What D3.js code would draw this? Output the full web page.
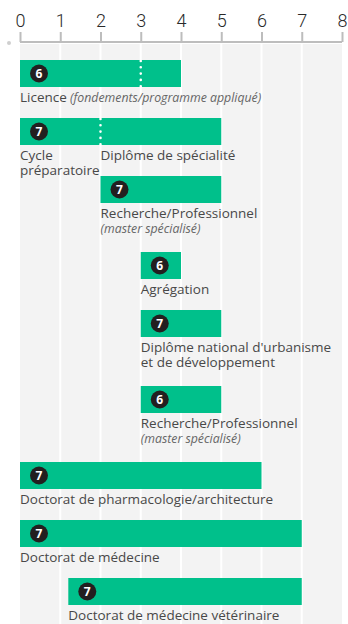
<!DOCTYPE html>
<html>
<head>
<meta charset="utf-8">
<script src="https://cdn.jsdelivr.net/npm/d3@7"></script>
<style>
  body { margin: 0; background: #fff; }
  svg { display: block; }
</style>
</head>
<body>
<svg id="chart"></svg>
<script>
// données : début / fin des cursus (en années), niveau, séparations
var debuts = [0, 0, 2, 3, 3, 3, 0, 0, 1.2];
var fins = [4, 5, 5, 4, 5, 5, 6, 7, 7];
var niveaux = [6, 7, 7, 6, 7, 6, 7, 7, 7];
var separations = [3, 2, null, null, null, null, null, null, null];
var titres = [
    ["Licence"],
    ["Cycle", "préparatoire"],
    ["Recherche/Professionnel"],
    ["Agrégation"],
    ["Diplôme national d'urbanisme", "et de développement"],
    ["Recherche/Professionnel"],
    ["Doctorat de pharmacologie/architecture"],
    ["Doctorat de médecine"],
    ["Doctorat de médecine vétérinaire"]
];
var precisions = [
    "(fondements/programme appliqué)", null, "(master spécialisé)", null, null,
    "(master spécialisé)", null, null, null
];
// libellé placé à la séparation (2e partie de la barre)
var titresSeparation = [null, "Diplôme de spécialité", null, null, null, null, null, null, null];
// lignes de texte qui repoussent la barre suivante
var lignesSupp = [0, 0, 1, 0, 1, 1, 0, 0, 0];
var ticks = [0, 1, 2, 3, 4, 5, 6, 7, 8];

var W = 348, H = 624;
var svg = d3.select("#chart").attr("width", W).attr("height", H);

var x = d3.scaleLinear().domain([0, 8]).range([20, 342]);

var barH = 27, pas = 58, pasLigne = 18, top0 = 60, fondTop = 44, interligne = 15;

// positions verticales cumulées
var tops = [];
var cur = top0;
for (var i = 0; i < debuts.length; i++) {
    tops.push(cur);
    cur += pas + pasLigne * lignesSupp[i];
}

var texte = "#484848";
var police = "'Open Sans', sans-serif";
var taille = "13.5px", tailleIt = "12.3px";

// fond gris + lignes blanches
svg.append("rect")
    .attr("x", x(0)).attr("y", fondTop)
    .attr("width", x(8) - x(0)).attr("height", H - fondTop)
    .attr("fill", "#f3f3f3");

svg.selectAll(".grille")
    .data(ticks.slice(1, 8))
    .enter().append("line")
    .attr("class", "grille")
    .attr("x1", function(d) { return x(d); })
    .attr("x2", function(d) { return x(d); })
    .attr("y1", fondTop).attr("y2", H)
    .attr("stroke", "#fff").attr("stroke-width", 2);

// axe du haut
var axe = svg.append("g")
    .attr("transform", "translate(0,42)")
    .call(d3.axisTop(x).tickValues(ticks).tickSize(10).tickPadding(5).tickFormat(d3.format("d")));
axe.select(".domain").attr("stroke", "#bdbdbd").attr("stroke-width", 2)
    .attr("d", "M" + x(0) + ",0H" + x(8));
axe.selectAll(".tick line").attr("stroke", "#bdbdbd").attr("stroke-width", 2);
axe.selectAll(".tick text")
    .attr("fill", "#2a2a2a")
    .style("font-family", "Roboto, sans-serif")
    .style("font-weight", "300")
    .style("font-size", "18px");

svg.append("circle").attr("cx", 9).attr("cy", 43).attr("r", 2).attr("fill", "#cfcfcf");

// barres
var ligne = svg.selectAll(".cursus")
    .data(debuts)
    .enter().append("g")
    .attr("class", "cursus");

ligne.append("rect")
    .attr("x", function(d) { return x(d); })
    .attr("y", function(d, i) { return tops[i]; })
    .attr("width", function(d, i) { return x(fins[i]) - x(d); })
    .attr("height", barH)
    .attr("fill", "#00c08b");

// séparations pointillées
ligne.each(function(d, i) {
    if (separations[i] === null) return;
    d3.select(this).append("line")
        .attr("x1", x(separations[i])).attr("x2", x(separations[i]))
        .attr("y1", tops[i] + 1).attr("y2", tops[i] + barH)
        .attr("stroke", "#fff").attr("stroke-width", 2.6)
        .attr("stroke-linecap", "round")
        .attr("stroke-dasharray", "0,6.3");
});

// pastilles de niveau
ligne.append("circle")
    .attr("cx", function(d) { return x(d) + 19; })
    .attr("cy", function(d, i) { return tops[i] + barH / 2; })
    .attr("r", 9)
    .attr("fill", "#231f20");

ligne.append("text")
    .attr("x", function(d) { return x(d) + 19; })
    .attr("y", function(d, i) { return tops[i] + barH / 2; })
    .attr("dy", "0.36em")
    .attr("text-anchor", "middle")
    .attr("fill", "#fff")
    .style("font", "bold 12px " + police)
    .text(function(d, i) { return niveaux[i]; });

// libellés
ligne.each(function(d, i) {
    var g = d3.select(this);
    var y0 = tops[i] + barH + 15;
    titres[i].forEach(function(t, k) {
        var txt = g.append("text")
            .attr("x", x(d))
            .attr("y", y0 + k * interligne)
            .attr("fill", texte)
            .style("font", taille + " " + police)
            .text(t);
        if (k === 0 && precisions[i] && i === 0) {
            txt.append("tspan")
                .style("font-style", "italic")
                .style("font-size", tailleIt)
                .attr("fill", "#666")
                .text(" " + precisions[i]);
        }
    });
    if (precisions[i] && i !== 0) {
        g.append("text")
            .attr("x", x(d))
            .attr("y", y0 + titres[i].length * interligne)
            .attr("fill", "#666")
            .style("font", "italic " + tailleIt + " " + police)
            .text(precisions[i]);
    }
    if (titresSeparation[i]) {
        g.append("text")
            .attr("x", x(separations[i]))
            .attr("y", y0)
            .attr("fill", texte)
            .style("font", taille + " " + police)
            .text(titresSeparation[i]);
    }
});
</script>
</body>
</html>
